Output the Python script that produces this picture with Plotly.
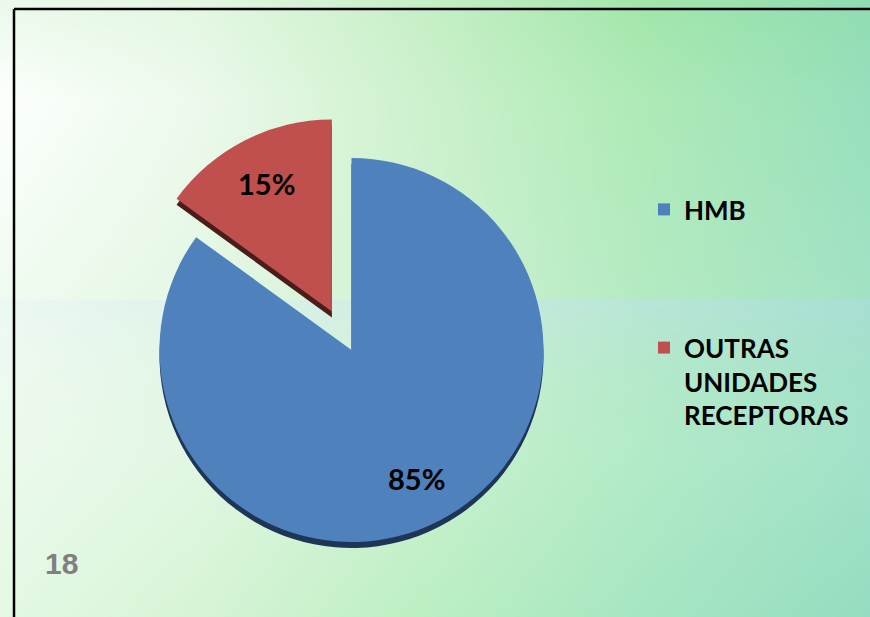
import base64
import math
import struct
import zlib

import numpy as np
import plotly.graph_objects as go

# ---------------- data ----------------
categories = ["HMB", "OUTRAS UNIDADES RECEPTORAS"]
shares = [85, 15]
slice_colors = ["#4F81BD", "#C0504D"]
side_colors = ["#1F3557", "#4A1D1B"]
pulls = [0, 0.225]
slide_number = "18"

W, H = 870, 617


# ---------------- background (gradient picture) ----------------
def hex2rgb(h):
    h = h.lstrip("#")
    return [int(h[i:i + 2], 16) for i in (0, 2, 4)]


gx = np.array([0, 200, 420, 640, 870], float)
gy = np.array([0, 100, 300, 450, 617], float)
grid_hex = [
    ["#eaf9ea", "#e2f7e0", "#c6efc6", "#a2e6aa", "#90dcb2"],
    ["#fcfffc", "#ecf9ec", "#cdf1cd", "#aeeab6", "#98dfbc"],
    ["#f0fbf0", "#e4f7e4", "#cff2d2", "#b4eac2", "#a2e2c4"],
    ["#ecfaec", "#e2f7e2", "#cbf1cd", "#b2ebc6", "#a2e2c8"],
    ["#e4f8e4", "#d6f4d6", "#bcefc2", "#a6e6c2", "#96dcc0"],
]
grid = np.array([[hex2rgb(c) for c in row] for row in grid_hex], float)

xs = np.arange(W) + 0.5
ys = np.arange(H) + 0.5


def weights(vals, g):
    i = np.clip(np.searchsorted(g, vals) - 1, 0, len(g) - 2)
    f = (vals - g[i]) / (g[i + 1] - g[i])
    return i, np.clip(f, 0, 1)


ix, fx = weights(xs, gx)
iy, fy = weights(ys, gy)
rows = grid[:, ix, :] * (1 - fx)[None, :, None] + grid[:, ix + 1, :] * fx[None, :, None]
img = rows[iy, :, :] * (1 - fy)[:, None, None] + rows[iy + 1, :, :] * fy[:, None, None]

# light horizontal band
left_t = np.array(hex2rgb("#eaf6f4"), float)
right_t = np.array(hex2rgb("#aadcdc"), float)
target = left_t[None, :] * (1 - xs / W)[:, None] + right_t[None, :] * (xs / W)[:, None]
wband = np.where(ys >= 300, 0.7 * np.exp(-(ys - 300) / 60.0), 0.0)
img = img * (1 - wband)[:, None, None] + target[None, :, :] * wband[:, None, None]
img = np.clip(np.round(img), 0, 255).astype(np.int16)


def png_uri(arr):
    h, w, _ = arr.shape
    sub = np.empty_like(arr)
    sub[:, 0] = arr[:, 0]
    sub[:, 1:] = arr[:, 1:] - arr[:, :-1]
    sub = (sub % 256).astype(np.uint8).reshape(h, w * 3)
    raw = np.hstack([np.ones((h, 1), np.uint8), sub])
    comp = zlib.compress(raw.tobytes(), 9)

    def chunk(tag, data):
        return (struct.pack(">I", len(data)) + tag + data +
                struct.pack(">I", zlib.crc32(tag + data) & 0xFFFFFFFF))

    png = (b"\x89PNG\r\n\x1a\n" +
           chunk(b"IHDR", struct.pack(">IIBBBBB", w, h, 8, 2, 0, 0, 0)) +
           chunk(b"IDAT", comp) + chunk(b"IEND", b""))
    return "data:image/png;base64," + base64.b64encode(png).decode()


bg_uri = png_uri(img)

# ---------------- pie geometry ----------------
cx, cy, r = 351.5, 350, 192
half = r * (1 + max(pulls))
dom_x = [(cx - half) / W, (cx + half) / W]
dom_y = [(H - cy - half) / H, (H - cy + half) / H]
shadow_dy = 6 / H

legend_labels = ["HMB<br> <br> <br> ", "OUTRAS<br>UNIDADES<br>RECEPTORAS"]

fig = go.Figure()
# dark copy underneath for the 3D side
fig.add_trace(go.Pie(
    labels=legend_labels, values=shares, sort=False, direction="clockwise",
    rotation=0, pull=pulls, marker=dict(colors=side_colors, line=dict(width=0)),
    textinfo="none", hoverinfo="skip", showlegend=False,
    domain=dict(x=dom_x, y=[dom_y[0] - shadow_dy, dom_y[1] - shadow_dy]),
))
fig.add_trace(go.Pie(
    labels=legend_labels, values=shares, sort=False, direction="clockwise",
    rotation=0, pull=pulls, marker=dict(colors=slice_colors, line=dict(width=0)),
    textinfo="none", hoverinfo="skip", showlegend=True,
    domain=dict(x=dom_x, y=dom_y),
))

# percentage labels placed from the slice geometry
total = float(sum(shares))
annotations = []
cum = 0.0
for v, p in zip(shares, pulls):
    mid = math.radians((cum + v / 2) / total * 360)
    cum += v
    dist = (p + 0.75) * r
    px = cx + dist * math.sin(mid)
    py = cy - dist * math.cos(mid)
    annotations.append(dict(
        text=f"{round(100 * v / total)}%", xref="paper", yref="paper",
        x=px / W, y=1 - py / H, xanchor="center", yanchor="middle",
        showarrow=False,
        font=dict(family="Lato", size=29, color="black", weight="bold")))

annotations.append(dict(
    text=slide_number, xref="paper", yref="paper",
    x=61 / W, y=1 - 563 / H, xanchor="center", yanchor="middle", showarrow=False,
    font=dict(family="Liberation Sans, Arial, sans-serif", size=30,
              color="#808080", weight="bold")))

fig.update_layout(
    width=W, height=H,
    margin=dict(l=0, r=0, t=0, b=0),
    paper_bgcolor="#d8f4d8",
    plot_bgcolor="rgba(0,0,0,0)",
    images=[dict(source=bg_uri, xref="paper", yref="paper", x=0, y=1,
                 sizex=1, sizey=1, sizing="stretch", layer="below",
                 xanchor="left", yanchor="top")],
    legend=dict(x=(688 - 44) / W, y=1 - 186 / H, xanchor="left", yanchor="top",
                valign="top", bgcolor="rgba(0,0,0,0)",
                font=dict(family="Lato", size=26, color="black", weight="bold")),
    shapes=[
        dict(type="line", xref="paper", yref="paper", x0=14 / W, x1=1.01,
             y0=1 - 9 / H, y1=1 - 9 / H, line=dict(color="black", width=2.5)),
        dict(type="line", xref="paper", yref="paper", x0=14 / W, x1=14 / W,
             y0=-0.01, y1=1 - 9 / H, line=dict(color="black", width=2.5)),
    ],
    annotations=annotations,
)

fig.write_html("out.html", config={"displayModeBar": False},
               post_script="document.body.style.margin='0';"
               "document.body.style.overflow='hidden';")
